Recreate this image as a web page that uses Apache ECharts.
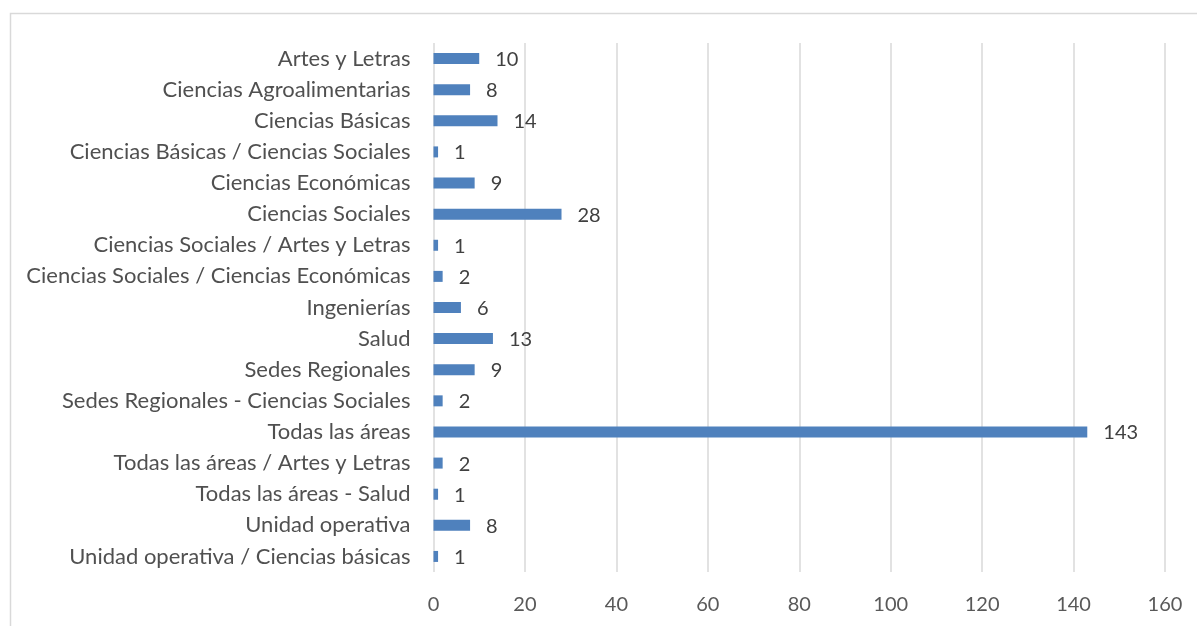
<!DOCTYPE html>
<html><head><meta charset="utf-8">
<script src="https://cdn.jsdelivr.net/npm/echarts@6/dist/echarts.min.js"></script>
<style>html,body{margin:0;padding:0;background:#fff}#c{width:1197px;height:626px}</style>
</head><body><div id="c"></div>
<script>
const categories = ["Artes y Letras","Ciencias Agroalimentarias","Ciencias Básicas","Ciencias Básicas / Ciencias Sociales","Ciencias Económicas","Ciencias Sociales","Ciencias Sociales / Artes y Letras","Ciencias Sociales / Ciencias Económicas","Ingenierías","Salud","Sedes Regionales","Sedes Regionales - Ciencias Sociales","Todas las áreas","Todas las áreas / Artes y Letras","Todas las áreas - Salud","Unidad operativa","Unidad operativa / Ciencias básicas"];
const values = [10,8,14,1,9,28,1,2,6,13,9,2,143,2,1,8,1];
const xMin = 0, xMax = 160, xStep = 20;
const FONT = 'Lato, "Open Sans", sans-serif';
const chart = echarts.init(document.getElementById('c'));
chart.setOption({
  animation:false,
  graphic:[{type:'rect',shape:{x:10.5,y:13.5,width:1200,height:700},style:{fill:'none',stroke:'#d9d9d9',lineWidth:1.5},silent:true}],
  grid:{left:433.5,right:32,top:43,bottom:54},
  xAxis:{type:'value',min:xMin,max:xMax,interval:xStep,
    axisLine:{show:false},axisTick:{show:false},
    axisLabel:{color:'#595959',fontSize:20,fontFamily:FONT,margin:23},
    splitLine:{lineStyle:{color:'#d9d9d9',width:1.5}}},
  yAxis:{type:'category',data:categories,inverse:true,
    axisLine:{show:false},axisTick:{show:false},
    axisLabel:{color:'#505050',fontSize:22,fontFamily:FONT,margin:23}},
  series:[{type:'bar',data:values,barWidth:11,
    itemStyle:{color:'#4f81bd'},
    label:{show:true,position:'right',distance:16,color:'#404040',fontSize:20,fontFamily:FONT,offset:[0,1]}}]
});
</script></body></html>
